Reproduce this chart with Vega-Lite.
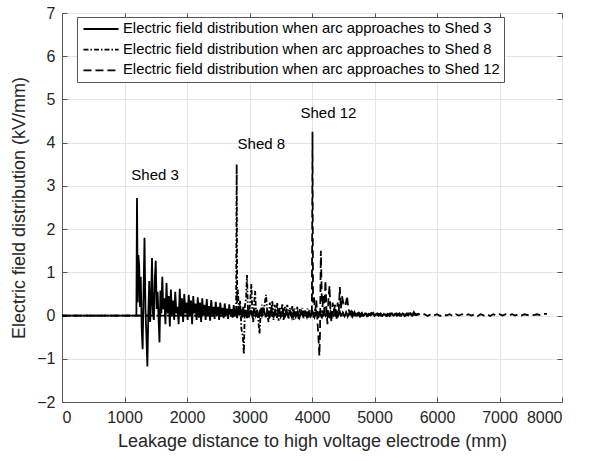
{
  "$schema": "https://vega.github.io/schema/vega-lite/v6.json",
  "width": 500,
  "height": 389,
  "autosize": {"type": "none"},
  "padding": {"left": 62, "top": 13, "right": 30, "bottom": 59},
  "background": "white",
  "config": {
    "view": {"stroke": "#555555", "strokeWidth": 1},
    "font": "Liberation Sans",
    "axis": {
      "labelFont": "Liberation Sans",
      "titleFont": "Liberation Sans",
      "labelColor": "#262626",
      "titleColor": "#262626",
      "titleFontWeight": "normal",
      "labelFontSize": 16,
      "titleFontSize": 18,
      "gridColor": "#e4e4e4",
      "gridWidth": 1,
      "domainColor": "#555555",
      "tickColor": "#555555",
      "tickSize": -5
    }
  },
  "datasets": {
    "lines": [
      {"series": "Electric field distribution when arc approaches to Shed 3", "pts": [[0,0],[1190,0],[1200,2.72],[1212,0.3],[1222,1.4],[1235,1.15],[1248,0.2],[1260,0.9],[1275,-0.3],[1290,-0.78],[1305,0.55],[1320,1.8],[1335,0.15],[1350,-0.45],[1366,-1.18],[1382,0.1],[1396,0.8],[1410,-0.15],[1425,0.3],[1440,1.33],[1455,0.05],[1470,-0.1],[1485,0.85],[1500,1.27],[1515,0.15],[1530,0.55],[1545,-0.05],[1560,-0.62],[1575,0.58],[1590,0.05],[1605,0.9],[1620,0.15],[1638,0.4],[1655,-0.2],[1672,0.75],[1690,0.05],[1708,0.45],[1725,-0.25],[1742,0.6],[1760,0.0],[1778,0.35],[1795,-0.1],[1812,0.55],[1830,0.05],[1848,0.2],[1866,-0.2],[1884,0.62],[1902,0.0],[1920,0.4],[1938,-0.15],[1956,0.5],[1974,0.05],[1992,0.3],[2010,-0.1],[2028,0.48],[2046,0.0],[2064,0.35],[2082,-0.2],[2100,0.45],[2118,0.05],[2136,0.28],[2154,-0.1],[2172,0.42],[2190,-0.05],[2208,0.3],[2226,-0.15],[2244,0.4],[2262,0.0],[2280,0.25],[2298,-0.1],[2316,0.38],[2334,0.0],[2352,0.22],[2370,-0.12],[2388,0.36],[2406,0.02],[2424,0.2],[2442,-0.08],[2460,0.32],[2478,0.0],[2496,0.2],[2514,-0.1],[2532,0.3],[2550,0.02],[2568,0.18],[2586,-0.06],[2604,0.28],[2622,0.0],[2640,0.16],[2658,-0.08],[2676,0.26],[2694,0.02],[2712,0.15],[2730,-0.05],[2748,0.24],[2766,0.0],[2784,0.14],[2802,-0.06],[2820,0.22],[2840,0.0],[2860,0.15],[2880,-0.05],[2900,0.2],[2920,0.0],[2940,0.13],[2960,-0.06],[2980,0.18],[3000,0.0],[3025,0.12],[3050,-0.05],[3075,0.16],[3100,0.0],[3125,0.12],[3150,-0.05],[3175,0.15],[3200,0.0],[3230,0.14],[3260,-0.04],[3290,0.12],[3320,-0.06],[3350,0.15],[3380,-0.02],[3410,0.11],[3440,-0.05],[3470,0.13],[3500,-0.03],[3530,0.1],[3560,-0.06],[3590,0.12],[3620,-0.02],[3650,0.1],[3680,-0.05],[3710,0.11],[3740,-0.03],[3770,0.09],[3800,-0.05],[3830,0.1],[3860,-0.02],[3890,0.08],[3920,-0.04],[3950,0.09],[3980,-0.02],[4010,0.08],[4040,-0.04],[4070,0.09],[4100,-0.02],[4130,0.07],[4160,-0.04],[4190,0.08],[4220,-0.01],[4250,0.07],[4280,-0.03],[4310,0.07],[4340,-0.01],[4370,0.06],[4400,-0.03],[4430,0.07],[4460,0.0],[4490,0.06],[4520,-0.02],[4550,0.06],[4580,0.0],[4610,0.05],[4640,-0.02],[4670,0.06],[4700,0.0],[4730,0.05],[4760,-0.01],[4790,0.05],[4820,0.0],[4850,0.05],[4880,-0.01],[4910,0.04],[4940,0.0],[4970,0.05],[5000,-0.01],[5030,0.04],[5060,0.0],[5090,0.04],[5120,-0.01],[5150,0.04],[5180,0.0],[5210,0.04],[5240,-0.01],[5270,0.04],[5300,0.0],[5330,0.04],[5360,-0.01],[5390,0.04],[5420,0.0],[5450,0.05],[5480,-0.01],[5510,0.04],[5540,0.0],[5570,0.05],[5600,0.0],[5630,0.08],[5660,0.01],[5700,0.02]]},
      {"series": "Electric field distribution when arc approaches to Shed 8", "pts": [[0,0],[2785,0],[2795,3.5],[2803,0.3],[2815,0.6],[2830,0.1],[2850,0.35],[2870,-0.3],[2895,-0.5],[2910,-0.89],[2925,0.2],[2945,0.4],[2960,0.94],[2975,0.1],[2990,-0.05],[3010,0.3],[3030,0.73],[3045,0.05],[3060,-0.15],[3075,0.3],[3090,0.57],[3105,0.05],[3120,0.15],[3140,-0.1],[3160,-0.42],[3180,0.1],[3200,0.25],[3220,0.0],[3245,0.3],[3265,0.48],[3285,0.05],[3305,-0.15],[3325,0.3],[3345,0.0],[3365,0.35],[3385,-0.1],[3405,0.25],[3425,0.0],[3445,0.3],[3465,-0.12],[3485,0.2],[3505,0.0],[3525,0.28],[3545,-0.1],[3565,0.2],[3585,0.0],[3605,0.25],[3625,-0.08],[3645,0.18],[3665,0.0],[3685,0.22],[3705,-0.1],[3725,0.16],[3745,0.0],[3765,0.2],[3785,-0.08],[3805,0.15],[3825,0.0],[3845,0.18],[3865,-0.06],[3885,0.13],[3905,0.0],[3925,0.16],[3945,-0.06],[3965,0.12],[3985,0.0],[4005,0.14],[4025,-0.05],[4045,0.1],[4065,0.0],[4085,0.13],[4105,-0.05],[4125,0.1],[4145,0.0],[4165,0.12],[4185,-0.04],[4205,0.09],[4225,0.0],[4245,0.11],[4270,-0.04],[4295,0.09],[4320,0.0],[4345,0.1],[4370,-0.03],[4395,0.08],[4420,0.0],[4445,0.09],[4470,-0.03],[4495,0.07],[4520,0.0],[4545,0.08],[4570,-0.02],[4595,0.07],[4620,0.0],[4645,0.07],[4670,-0.02],[4695,0.06],[4720,0.0],[4745,0.07],[4770,-0.02],[4800,0.06],[4830,0.0],[4860,0.06],[4890,-0.01],[4920,0.05],[4950,0.0],[4980,0.06],[5010,-0.01],[5040,0.05],[5070,0.0],[5100,0.05],[5130,0.0],[5160,0.05],[5190,0.0],[5220,0.05],[5250,0.0],[5280,0.05],[5310,0.0],[5340,0.05],[5370,0.0],[5400,0.05],[5430,0.0],[5460,0.05],[5490,0.0],[5520,0.05],[5550,0.0],[5580,0.05],[5610,0.0],[5640,0.04],[5670,0.0],[5700,0.02]]},
      {"series": "Electric field distribution when arc approaches to Shed 12", "pts": [[0,0],[3998,0],[4008,4.25],[4016,0.3],[4030,0.45],[4050,0.1],[4070,0.35],[4090,-0.2],[4105,-0.55],[4118,-0.93],[4128,-0.4],[4142,1.5],[4155,0.5],[4168,0.2],[4182,0.45],[4198,0.1],[4215,0.81],[4232,0.1],[4248,-0.2],[4262,0.35],[4280,0.69],[4296,0.05],[4312,-0.15],[4330,0.3],[4350,0.1],[4370,0.25],[4390,-0.1],[4410,0.3],[4428,0.1],[4445,0.66],[4462,0.15],[4480,0.45],[4500,0.3],[4520,0.35],[4540,0.25],[4560,0.45],[4580,0.2],[4600,0.05],[4625,0.1],[4650,-0.02],[4680,0.08],[4700,0.0],[4750,0.07],[4800,-0.01],[4850,0.06],[4900,0.0],[4950,0.06],[5000,-0.01],[5050,0.05],[5100,0.0],[5150,0.05],[5200,-0.01],[5250,0.05],[5300,0.0],[5350,0.05],[5400,0.0],[5450,0.05],[5500,0.0],[5550,0.05],[5600,0.01],[5625,0.08],[5650,0.02],[5700,0.04],[5750,0.0],[5800,0.03],[5850,-0.01],[5900,0.03],[5950,0.0],[6000,0.03],[6050,-0.01],[6100,0.03],[6150,0.0],[6200,0.03],[6250,-0.01],[6300,0.03],[6350,0.0],[6400,0.03],[6450,-0.01],[6500,0.03],[6550,0.0],[6600,0.03],[6650,-0.01],[6700,0.03],[6750,0.0],[6800,0.03],[6850,-0.01],[6900,0.03],[6950,0.0],[7000,0.03],[7050,0.0],[7100,0.03],[7150,0.0],[7200,0.03],[7250,0.0],[7300,0.03],[7350,0.0],[7400,0.03],[7450,0.01],[7500,0.03],[7550,0.01],[7600,0.03],[7650,0.01],[7700,0.04],[7760,0.04]]}
    ],
    "notes": [
      {"label": "Shed 3", "x": 1490, "y": 3.26},
      {"label": "Shed 8", "x": 3190, "y": 3.96},
      {"label": "Shed 12", "x": 4263, "y": 4.68}
    ]
  },
  "layer": [
    {
      "data": {"name": "lines"},
      "transform": [
        {"flatten": ["pts"]},
        {"calculate": "datum.pts[0]", "as": "xv"},
        {"calculate": "datum.pts[1]", "as": "yv"}
      ],
      "mark": {"type": "line", "color": "black", "strokeWidth": 1.8, "interpolate": "linear"},
      "encoding": {
        "x": {"field": "xv", "type": "quantitative", "scale": {"domain": [0, 8000], "nice": false},
              "axis": {"values": [0,1000,2000,3000,4000,5000,6000,7000,8000], "format": "d", "title": "Leakage distance to high voltage electrode (mm)", "labelPadding": 12, "titlePadding": 7, "grid": true}},
        "y": {"field": "yv", "type": "quantitative", "scale": {"domain": [-2, 7], "nice": false},
              "axis": {"values": [-2,-1,0,1,2,3,4,5,6,7], "format": "d", "title": "Electric field distribution (kV/mm)", "labelPadding": 12, "titlePadding": 8, "grid": true}},
        "detail": {"field": "series"},
        "strokeDash": {
          "field": "series", "type": "nominal",
          "scale": {
            "domain": ["Electric field distribution when arc approaches to Shed 3", "Electric field distribution when arc approaches to Shed 8", "Electric field distribution when arc approaches to Shed 12"],
            "range": [[1, 0], [5, 2, 1.5, 2], [8, 4]]
          },
          "legend": {
            "title": null,
            "orient": "none",
            "legendX": 15,
            "legendY": 4,
            "padding": 4,
            "strokeColor": "#555555",
            "fillColor": "white",
            "symbolType": "M-2.6,0H2.6",
            "symbolSize": 182,
            "symbolOffset": 12,
            "symbolStrokeWidth": 1.8,
            "symbolStrokeColor": "black",
            "labelFontSize": 14.8,
            "labelFont": "Liberation Sans",
            "labelColor": "black",
            "labelLimit": 500,
            "labelOffset": 14,
            "rowPadding": 5.7
          }
        }
      }
    },
    {
      "data": {"name": "notes"},
      "mark": {"type": "text", "fontSize": 15, "font": "Liberation Sans", "color": "black", "align": "center", "baseline": "middle"},
      "encoding": {
        "x": {"field": "x", "type": "quantitative", "axis": {"orient": "top", "labels": false, "title": null, "grid": false, "domain": false, "values": [0,1000,2000,3000,4000,5000,6000,7000,8000]}},
        "y": {"field": "y", "type": "quantitative", "axis": {"orient": "right", "labels": false, "title": null, "grid": false, "domain": false, "values": [-2,-1,0,1,2,3,4,5,6,7]}},
        "text": {"field": "label"}
      }
    }
  ],
  "resolve": {"axis": {"x": "independent", "y": "independent"}}
}
